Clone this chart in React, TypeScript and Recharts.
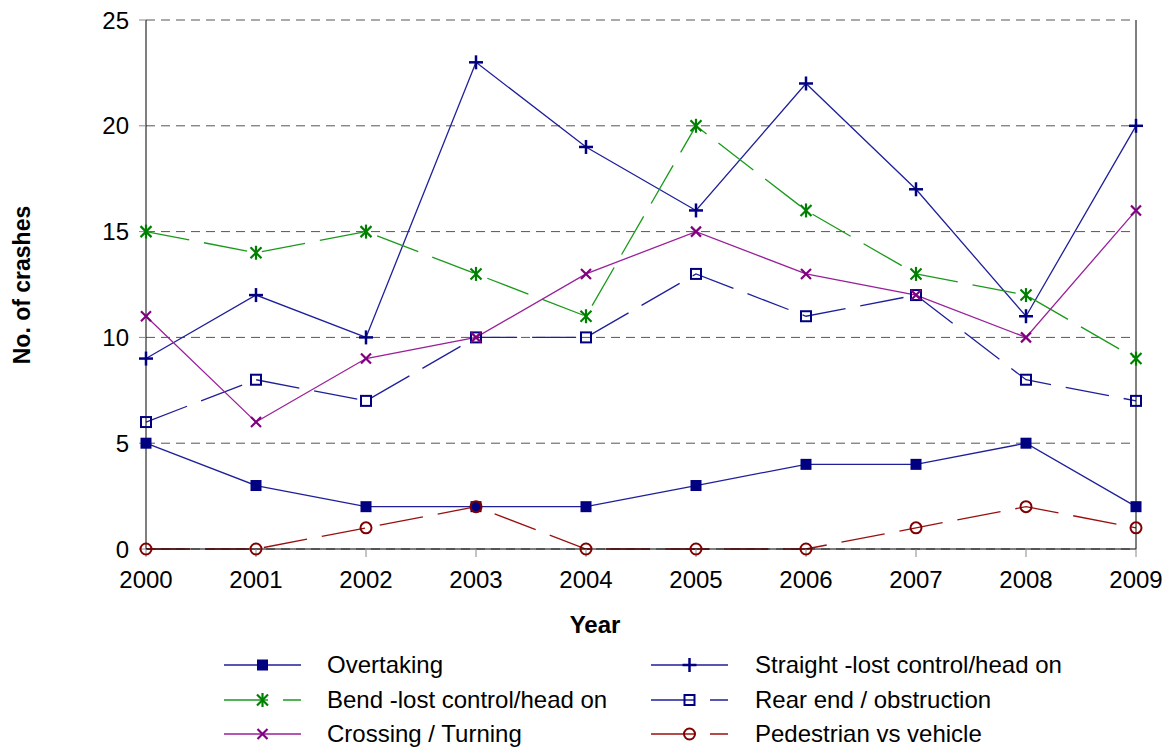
import React from "react";
import { CartesianGrid, Line, LineChart, XAxis, YAxis } from "recharts";

// Crash counts per year.
const years = ["2000", "2001", "2002", "2003", "2004", "2005", "2006", "2007", "2008", "2009"];
const overtaking = [5, 3, 2, 2, 2, 3, 4, 4, 5, 2];
const straight = [9, 12, 10, 23, 19, 16, 22, 17, 11, 20];
const bend = [15, 14, 15, 13, 11, 20, 16, 13, 12, 9];
const rearEnd = [6, 8, 7, 10, 10, 13, 11, 12, 8, 7];
const crossing = [11, 6, 9, 10, 13, 15, 13, 12, 10, 16];
const pedestrian = [0, 0, 1, 2, 0, 0, 0, 1, 2, 1];
const yTicks = [0, 5, 10, 15, 20, 25];

const data = years.map((year, i) => ({
  year,
  overtaking: overtaking[i],
  straight: straight[i],
  bend: bend[i],
  rearEnd: rearEnd[i],
  crossing: crossing[i],
  pedestrian: pedestrian[i],
}));

type Shape = "filledSquare" | "plus" | "asterisk" | "cross" | "openSquare" | "circle";

interface SeriesDef {
  key: string;
  name: string;
  color: string;
  line: string;
  dashed: boolean;
  shape: Shape;
}

const series: SeriesDef[] = [
  { key: "overtaking", name: "Overtaking", color: "#000080", line: "#1f1f9a", dashed: false, shape: "filledSquare" },
  { key: "straight", name: "Straight -lost control/head on", color: "#000080", line: "#1f1f9a", dashed: false, shape: "plus" },
  { key: "bend", name: "Bend -lost control/head on", color: "#008000", line: "#1a9a1a", dashed: true, shape: "asterisk" },
  { key: "rearEnd", name: "Rear end / obstruction", color: "#000080", line: "#1f1f9a", dashed: true, shape: "openSquare" },
  { key: "crossing", name: "Crossing / Turning", color: "#800080", line: "#9a1f9a", dashed: false, shape: "cross" },
  { key: "pedestrian", name: "Pedestrian vs vehicle", color: "#800000", line: "#9a1010", dashed: true, shape: "circle" },
];

// legend order follows the reference: left column then right column
const legendOrder = ["overtaking", "straight", "bend", "rearEnd", "crossing", "pedestrian"];

const FONT = "'Liberation Sans', Arial, sans-serif";
const DASH = "44 15";

function Marker({ x, y, shape, color }: { x: number; y: number; shape: Shape; color: string }) {
  switch (shape) {
    case "filledSquare":
      return <rect x={x - 5.5} y={y - 5.5} width={11} height={11} fill={color} />;
    case "openSquare":
      return <rect x={x - 5} y={y - 5} width={10} height={10} fill="none" stroke={color} strokeWidth={2} />;
    case "circle":
      return <circle cx={x} cy={y} r={5.5} fill="none" stroke={color} strokeWidth={2} />;
    case "plus":
      return (
        <g stroke={color} strokeWidth={2.5}>
          <line x1={x - 7} y1={y} x2={x + 7} y2={y} />
          <line x1={x} y1={y - 7} x2={x} y2={y + 7} />
        </g>
      );
    case "cross":
      return (
        <g stroke={color} strokeWidth={2.2}>
          <line x1={x - 5} y1={y - 5} x2={x + 5} y2={y + 5} />
          <line x1={x - 5} y1={y + 5} x2={x + 5} y2={y - 5} />
        </g>
      );
    case "asterisk":
      return (
        <g stroke={color} strokeWidth={2.2}>
          <line x1={x - 5.5} y1={y - 5.5} x2={x + 5.5} y2={y + 5.5} />
          <line x1={x - 5.5} y1={y + 5.5} x2={x + 5.5} y2={y - 5.5} />
          <line x1={x} y1={y - 7} x2={x} y2={y + 7} />
        </g>
      );
  }
  return null;
}

const makeDot = (s: SeriesDef) => (props: any) => {
  const { cx, cy, index } = props;
  if (cx == null || cy == null) return <g key={`${s.key}-${index}`} />;
  return (
    <g key={`${s.key}-${index}`}>
      <Marker x={cx} y={cy} shape={s.shape} color={s.color} />
    </g>
  );
};

function ChartLegend() {
  return (
    <div style={{ position: "absolute", left: 0, top: 645, width: 1169, height: 104, fontFamily: FONT, fontSize: 24 }}>
      {legendOrder.map((key, i) => {
        const s = series.find((d) => d.key === key)!;
        const col = i % 2;
        const row = Math.floor(i / 2);
        const lineX = col === 0 ? 224 : 651;
        const textX = col === 0 ? 327 : 755;
        const cy = 20 + row * 34.5;
        return (
          <React.Fragment key={key}>
            <svg style={{ position: "absolute", left: lineX, top: cy - 10 }} width={80} height={20}>
              <line
                x1={0}
                y1={10}
                x2={77}
                y2={10}
                stroke={s.line}
                strokeWidth={1.3}
                strokeDasharray={s.dashed ? DASH : undefined}
              />
              <Marker x={38.5} y={10} shape={s.shape} color={s.color} />
            </svg>
            <div style={{ position: "absolute", left: textX, top: cy - 14, lineHeight: "28px", color: "#000", whiteSpace: "nowrap" }}>
              {s.name}
            </div>
          </React.Fragment>
        );
      })}
    </div>
  );
}

export default function App() {
  return (
    <div style={{ position: "absolute", left: 0, top: 0, width: 1169, height: 749, background: "#fff" }}>
      <LineChart width={1169} height={749} data={data} margin={{ top: 20, right: 0, bottom: 110, left: 0 }}>
        <CartesianGrid horizontal vertical={false} stroke="#555" strokeDasharray="9 6" />
        <XAxis
          dataKey="year"
          padding={{ left: 0, right: 0 }}
          height={90}
          stroke="#000"
          tickSize={8}
          tickMargin={14}
          tickLine={{ stroke: "#888" }}
          tick={{ fill: "#000", fontSize: 24, fontFamily: FONT }}
          interval={0}
          label={() => (
            <text x={595} y={633} textAnchor="middle" fontFamily={FONT} fontSize={24} fontWeight="bold" fill="#000">
              Year
            </text>
          )}
        />
        <YAxis
          domain={[0, 25]}
          ticks={yTicks}
          width={146}
          stroke="#000"
          tickSize={7}
          tickMargin={10}
          tickLine={{ stroke: "#888" }}
          tick={{ fill: "#000", fontSize: 24, fontFamily: FONT }}
          label={() => (
            <text
              x={22}
              y={285}
              transform="rotate(-90 22 285)"
              textAnchor="middle"
              dominantBaseline="central"
              fontFamily={FONT}
              fontSize={23}
              fontWeight="bold"
              fill="#000"
            >
              No. of crashes
            </text>
          )}
        />
        <YAxis yAxisId="right" orientation="right" width={33} stroke="#000" tick={false} tickLine={false} domain={[0, 25]} />
        {series.map((s) => (
          <Line
            key={s.key}
            dataKey={s.key}
            name={s.name}
            type="linear"
            stroke={s.line}
            strokeWidth={1.3}
            strokeDasharray={s.dashed ? DASH : undefined}
            dot={makeDot(s)}
            activeDot={false}
            isAnimationActive={false}
          />
        ))}
      </LineChart>
      <ChartLegend />
    </div>
  );
}
